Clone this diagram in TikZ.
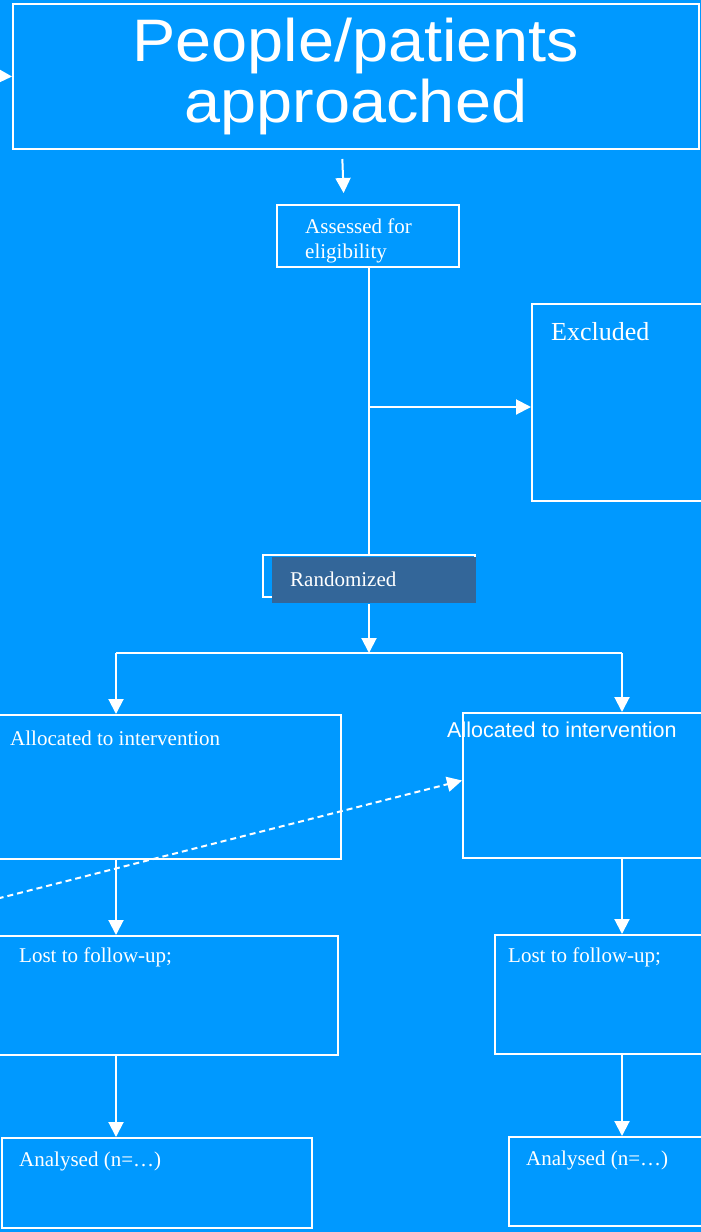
\documentclass[tikz,border=0pt]{standalone}
\usepackage{fontspec}
\setmainfont{Liberation Serif}
\newfontfamily\headfont{Liberation Sans}
\newfontfamily\titlefont[FakeStretch=1.08]{Liberation Sans}
\usetikzlibrary{
  arrows.meta,
  positioning,
  calc
}
\definecolor{FigBack}{HTML}{0099FF}
\definecolor{FigSlate}{HTML}{336699}
\definecolor{FigText}{HTML}{FFFFFF}

\begin{document}
\begin{tikzpicture}[
x=1pt, y=-1pt,
>={Triangle[width=15pt,length=15pt]},
box/.style={
draw=white,
line width=2pt,
inner sep=0pt,
anchor=north west
},
boxtext/.style={
anchor=base west,
inner sep=0pt,
align=left,
font=\fontsize{21}{25}\selectfont
},
line/.style={draw=white, line width=2pt},
arrow/.style={line, ->},
every node/.style={text=FigText}
]

% Canvas
\useasboundingbox (0,0) rectangle (701,1232);
\fill[FigBack] (0,0) rectangle (701,1232);

% Top box
\node[box, minimum width=686, minimum height=145, align=center,
      font=\titlefont\fontsize{60}{61}\selectfont] (approach) at (12,3) {
People/patients\\
approached
};

% Eligibility (base = last line)
\node[box, minimum width=182, minimum height=62] (assess) at (276,204) {};
\node[boxtext] (assess-t) at ($(assess.north west)+(29,54)$) {Assessed for\\eligibility};

% Excluded, runs off the right edge
\node[box, minimum width=200, minimum height=197] (excl) at (531,303) {};
\node[boxtext, font=\fontsize{26}{30}\selectfont] (excl-t) at ($(excl.north west)+(20,37)$) {Excluded};

% Randomized: frame behind a shifted fill
\node[box, minimum width=212, minimum height=42] (randframe) at (262,554) {};
\node[box, draw=none, fill=FigSlate, minimum width=204, minimum height=46] (rand) at (271,556) {};
\node[boxtext] (rand-t) at ($(randframe.north west)+(28,32)$) {Randomized};

% Allocation
\node[box, minimum width=360, minimum height=144] (allocL) at (-20,714) {};
\node[boxtext] (allocL-t) at ($(allocL.north west)+(30,31)$) {Allocated to intervention};
\node[box, minimum width=260, minimum height=145] (allocR) at (462,712) {};
\node[boxtext, font=\headfont\fontsize{21.5}{25}\selectfont] (allocR-t)
      at ($(allocR.north west)+(-15,25)$) {Allocated to intervention};

% Follow-up
\node[box, minimum width=357, minimum height=119] (lostL) at (-20,935) {};
\node[boxtext] (lostL-t) at ($(lostL.north west)+(39,27)$) {Lost to follow-up;};
\node[box, minimum width=230, minimum height=119] (lostR) at (494,934) {};
\node[boxtext] (lostR-t) at ($(lostR.north west)+(14,28)$) {Lost to follow-up;};

% Analysis
\node[box, minimum width=310, minimum height=90] (anaL) at (1,1137) {};
\node[boxtext] (anaL-t) at ($(anaL.north west)+(18,29)$) {Analysed (n=\ldots)};
\node[box, minimum width=220, minimum height=89] (anaR) at (508,1136) {};
\node[boxtext] (anaR-t) at ($(anaR.north west)+(18,29)$) {Analysed (n=\ldots)};

% Junctions
\coordinate (spine) at (369,407);
\coordinate (split) at (369,653);
\coordinate (forkL) at (116,653);
\coordinate (forkR) at (622,653);
\coordinate (inflow) at (-30,75);
\coordinate (crossin) at (-12,901);

% Arrows
\draw[arrow] (inflow) -- (approach.west);
\draw[arrow, shorten <=9pt, shorten >=11pt] ($(approach.south)+(-14,0)$) -- ($(assess.north)+(-24,0)$);
\draw[line] (spine |- assess.south) -- (spine |- randframe.north);
\draw[arrow] (spine) -- (spine -| excl.west);
\draw[arrow] (split |- rand.south) -- (split);
\draw[line] (forkL) -- (forkR);
\draw[arrow] (forkL) -- (forkL |- allocL.north);
\draw[arrow] (forkR) -- (forkR |- allocR.north);
\draw[arrow, dashed, dash pattern=on 6pt off 4pt] (crossin) -- ($(allocR.west)+(0,-5)$);
\draw[arrow] (forkL |- allocL.south) -- (forkL |- lostL.north);
\draw[arrow] (forkR |- allocR.south) -- (forkR |- lostR.north);
\draw[arrow] (forkL |- lostL.south) -- (forkL |- anaL.north);
\draw[arrow] (forkR |- lostR.south) -- (forkR |- anaR.north);

\end{tikzpicture}
\end{document}
